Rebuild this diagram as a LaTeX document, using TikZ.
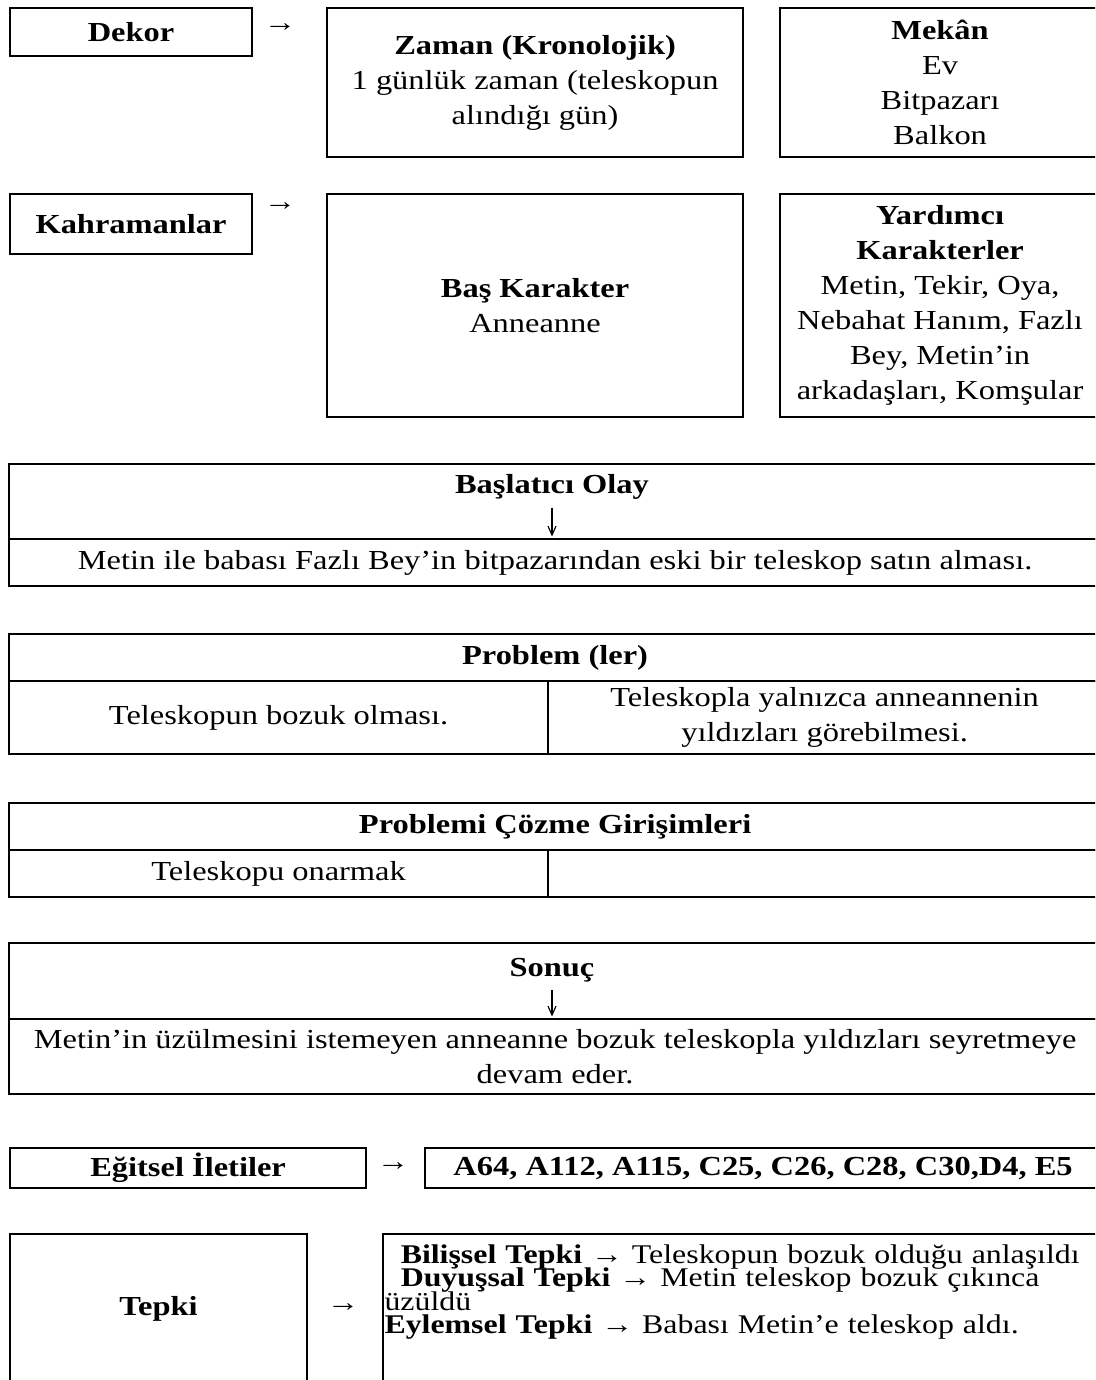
\documentclass[tikz,border=0pt]{standalone}
\usepackage{fontspec}
\setmainfont{Liberation Serif}[FakeStretch=1.18]
\usepackage{tikz}
\usetikzlibrary{arrows.meta}
\tikzset{
  cell/.style={draw, line width=0.85pt, inner sep=0pt, anchor=north west,
    align=center, font=\fontsize{11pt}{14pt}\selectfont},
  txt/.style={inner sep=0pt, align=center, font=\fontsize{11pt}{14pt}\selectfont},
  downarrow/.style={-{Straight Barb[length=3.6pt, width=3.2pt]}, line width=0.45pt,
    shorten <=3pt, shorten >=0.6pt}
}

\begin{document}
\begin{tikzpicture}[x=0.4pt, y=-0.4pt]
  \useasboundingbox (0,0) rectangle (1095,1380);
  \clip (0,0) rectangle (1095,1380);
  % Dekor
  \node[cell, minimum width=96.8pt, minimum height=19.2pt] (dekor) at (9,7) {\textbf{Dekor}};
  \node[txt] (dekorarrow) at (280,28) {→};
  \node[cell, minimum width=166.4pt, minimum height=59.6pt] (zaman) at (326,7)
    {\textbf{Zaman (Kronolojik)}\\1 günlük zaman (teleskopun\\alındığı gün)};
  \node[cell, minimum width=128pt, minimum height=59.6pt] (mekan) at (779,7)
    {\textbf{Mekân}\\Ev\\Bitpazarı\\Balkon};
  % Kahramanlar
  \node[cell, minimum width=96.8pt, minimum height=24pt] (kahraman) at (9,193) {\textbf{Kahramanlar}};
  \node[txt] (kahramanarrow) at (280,207) {→};
  \node[cell, minimum width=166.4pt, minimum height=89.2pt] (baskarakter) at (326,193)
    {\textbf{Baş Karakter}\\Anneanne};
  \node[cell, minimum width=128pt, minimum height=89.2pt] (yardimci) at (779,193)
    {\textbf{Yardımcı}\\\textbf{Karakterler}\\Metin, Tekir, Oya,\\Nebahat Hanım, Fazlı\\Bey, Metin’in\\arkadaşları, Komşular};
  % Baslatici olay
  \node[cell, minimum width=436.8pt, minimum height=30pt] (olayhead) at (8,463) {};
  \node[txt] (olaytitle) at (552,487) {\textbf{Başlatıcı Olay}};
  \node[cell, minimum width=436.8pt, minimum height=18.8pt] (olaybody) at (8,538)
    {Metin ile babası Fazlı Bey’in bitpazarından eski bir teleskop satın alması.};
  \draw[downarrow] (olaytitle.south) -- (olaytitle.south |- olaybody.north);
  % Problem (ler)
  \node[cell, minimum width=436.8pt, minimum height=18.8pt] (probhead) at (8,633) {\textbf{Problem (ler)}};
  \node[cell, minimum width=215.6pt, minimum height=29.2pt] (probleft) at (8,680) {Teleskopun bozuk olması.};
  \node[cell, minimum width=221.2pt, minimum height=29.2pt] (probright) at (547,680)
    {Teleskopla yalnızca anneannenin\\yıldızları görebilmesi.};
  % Problemi cozme girisimleri
  \node[cell, minimum width=436.8pt, minimum height=18.8pt] (cozumhead) at (8,802) {\textbf{Problemi Çözme Girişimleri}};
  \node[cell, minimum width=215.6pt, minimum height=18.8pt] (cozumleft) at (8,849) {Teleskopu onarmak};
  \node[cell, minimum width=221.2pt, minimum height=18.8pt] (cozumright) at (547,849) {};
  % Sonuc
  \node[cell, minimum width=436.8pt, minimum height=30.4pt] (sonuchead) at (8,942) {};
  \node[txt] (sonuctitle) at (552,970) {\textbf{Sonuç}};
  \node[cell, minimum width=436.8pt, minimum height=30pt] (sonucbody) at (8,1018)
    {Metin’in üzülmesini istemeyen anneanne bozuk teleskopla yıldızları seyretmeye\\devam eder.};
  \draw[downarrow] (sonuctitle.south) -- (sonuctitle.south |- sonucbody.north);
  % Egitsel iletiler
  \node[cell, minimum width=142.4pt, minimum height=16pt] (egitsel) at (9,1147) {\textbf{Eğitsel İletiler}};
  \node[txt] (egitselarrow) at (393,1167) {→};
  \node[cell, minimum width=270.4pt, minimum height=16pt] (iletiler) at (424,1147)
    {\textbf{A64, A112, A115, C25, C26, C28, C30,D4, E5}};
  % Tepki
  \node[cell, minimum width=118.8pt, minimum height=60pt] (tepki) at (9,1233) {\textbf{Tepki}};
  \node[txt] (tepkiarrow) at (343,1308) {→};
  \node[cell, minimum width=287.2pt, minimum height=60pt] (tepkibox) at (382,1233) {};
  \node[txt, anchor=north west, align=left, text width=284pt,
    font=\fontsize{10.8pt}{9.4pt}\selectfont] (tepkitext) at (384,1244)
    {\lineskiplimit=-20pt\relax
     \hspace*{6.5pt}\textbf{Bilişsel Tepki} → Teleskopun bozuk olduğu anlaşıldı\\
     \hspace*{6.5pt}\textbf{Duyuşsal Tepki} → Metin teleskop bozuk çıkınca\\
     üzüldü\\
     \textbf{Eylemsel Tepki} → Babası Metin’e teleskop aldı.};
\end{tikzpicture}
\end{document}
